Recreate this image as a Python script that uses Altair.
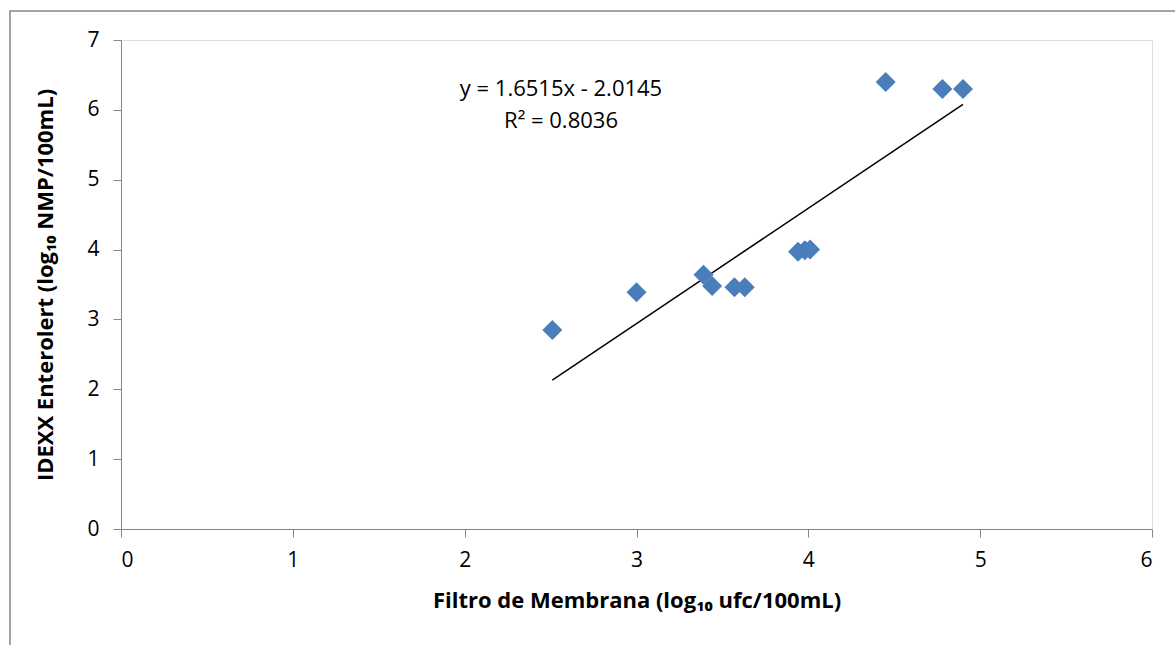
import altair as alt
import pandas as pd

# Data
filtro = [2.51, 3.00, 3.39, 3.44, 3.57, 3.63, 3.94, 3.98, 4.01, 4.45, 4.78, 4.90]
idexx = [2.85, 3.39, 3.64, 3.48, 3.46, 3.46, 3.97, 3.99, 4.00, 6.40, 6.30, 6.30]
slope = 1.6515
intercept = -2.0145
eq_lines = ["y = 1.6515x - 2.0145", "R² = 0.8036"]

x_title = "Filtro de Membrana (log₁₀ ufc/100mL)"
y_title = "IDEXX Enterolert (log₁₀ NMP/100mL)"

pts = pd.DataFrame({"x": filtro, "y": idexx})
xl = [min(filtro), max(filtro)]
line_df = pd.DataFrame({"x": xl, "y": [slope * v + intercept for v in xl]})

FONT = "Open Sans"
W, H = 1031, 489

xs = alt.Scale(domain=[0, 6], nice=False)
ys = alt.Scale(domain=[0, 7], nice=False)

xaxis = alt.Axis(values=[0, 1, 2, 3, 4, 5, 6], format="d", title=x_title, grid=False,
                 domainColor="#868686", tickColor="#868686", tickSize=8,
                 labelFontSize=21, labelFont=FONT, labelColor="black", labelPadding=12,
                 titleFontSize=22, titleFont=FONT, titleFontWeight="bold",
                 titleColor="black", titlePadding=20)
yaxis = alt.Axis(values=[0, 1, 2, 3, 4, 5, 6, 7], format="d", title=y_title, grid=False,
                 domainColor="#868686", tickColor="#868686", tickSize=8,
                 labelFontSize=21, labelFont=FONT, labelColor="black", labelPadding=14,
                 titleFontSize=22, titleFont=FONT, titleFontWeight="bold",
                 titleColor="black", titlePadding=29)

border = alt.Chart(pd.DataFrame({"a": [0]})).mark_rect(
    fill=None, stroke="#868686", strokeWidth=1.5
).encode(x=alt.value(-111), x2=alt.value(1100), y=alt.value(-29), y2=alt.value(700))

points = alt.Chart(pts).mark_point(
    shape="diamond", filled=True, size=400, color="#4a7ebb", opacity=1
).encode(
    x=alt.X("x:Q", scale=xs, axis=xaxis),
    y=alt.Y("y:Q", scale=ys, axis=yaxis),
)

trend = alt.Chart(line_df).mark_line(color="black", strokeWidth=1.5).encode(
    x=alt.X("x:Q", scale=xs), y=alt.Y("y:Q", scale=ys)
)

t1 = alt.Chart(pd.DataFrame({"t": [eq_lines[0]]})).mark_text(
    font=FONT, fontSize=22, color="black", align="center", baseline="middle"
).encode(text="t:N", x=alt.value(440), y=alt.value(49))
t2 = alt.Chart(pd.DataFrame({"t": [eq_lines[1]]})).mark_text(
    font=FONT, fontSize=22, color="black", align="center", baseline="middle"
).encode(text="t:N", x=alt.value(440), y=alt.value(81))

chart = alt.layer(border, trend, points, t1, t2).properties(
    width=W, height=H,
    autosize=alt.AutoSizeParams(type="none"),
    padding={"left": 121, "top": 40, "right": 23, "bottom": 116},
).configure_view(stroke=None).configure(background="white")

chart.save("out.html", embed_options={"renderer": "svg", "actions": False})
